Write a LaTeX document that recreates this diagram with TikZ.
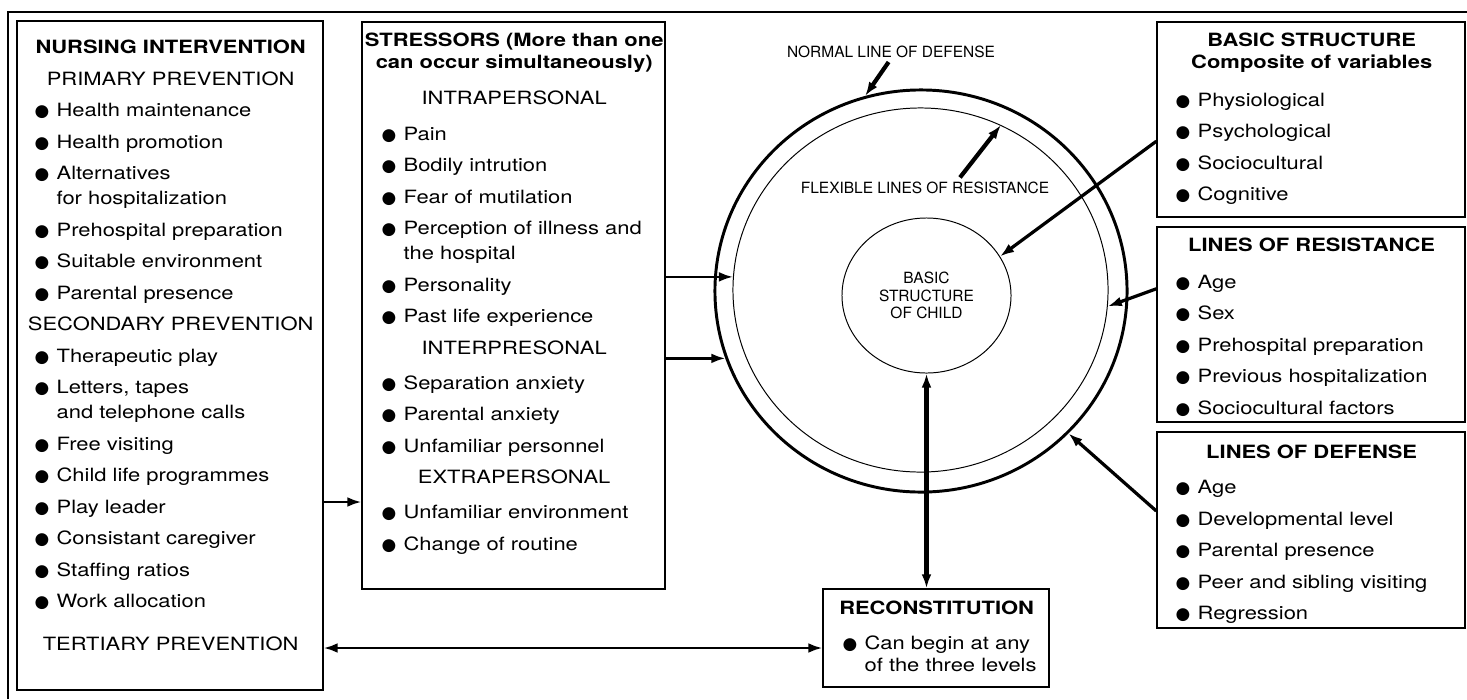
\documentclass[tikz,border=0pt]{standalone}
\usepackage{fontspec}
\setmainfont{TeX Gyre Heros}[FakeStretch=1.2]
\newfontfamily\lblfont{TeX Gyre Heros}
\newfontfamily\dotfont{DejaVu Sans}
\usepackage{tikz}
\usetikzlibrary{arrows.meta,calc,positioning,shapes.geometric}

\newcommand{\dotb}{{\dotfont\fontsize{12}{12}\selectfont ●}}
\newcommand{\hd}[1]{\makebox[\linewidth]{#1}}
\newcommand{\itm}[1]{\makebox[0.55cm][l]{\dotb}\mbox{#1}}
\newcommand{\cnt}[1]{\hspace*{0.55cm}\mbox{#1}}

\begin{document}
\begin{tikzpicture}[x=0.025cm,y=-0.025cm,font=\fontsize{13}{22.4}\selectfont,every node/.style={draw,line width=0.9pt,inner sep=0pt},listtext/.style={draw=none,anchor=base west,align=left},circtext/.style={draw=none,font=\lblfont\fontsize{11}{12.4}\selectfont,align=center},conn/.style={line width=1.7pt},midconn/.style={line width=2.3pt},heavyconn/.style={line width=3pt},>={Latex[length=10pt,width=7pt]}]
	\useasboundingbox (0,0) rectangle (1467,699);
	\draw[line width=1pt] (8,699) -- (8,12) -- (1467,12);

	\node (norm) at (921,291) [ellipse,line width=2.1pt,minimum width=10.3cm,minimum height=10.05cm] {};
	\node (flex) at (920.5,290) [ellipse,line width=0.7pt,minimum width=9.375cm,minimum height=9.1cm] {};
	\node (core) at (926.5,295.5) [ellipse,line width=0.7pt,minimum width=4.225cm,minimum height=3.875cm] {};

	\node (ni) at (170,355.5) [rectangle,minimum width=7.65cm,minimum height=16.725cm] {};
	\node (st) at (513.5,305.5) [rectangle,minimum width=7.575cm,minimum height=14.175cm] {};
	\node (bs) at (1311,119.5) [rectangle,minimum width=7.7cm,minimum height=4.875cm] {};
	\node (lr) at (1311,324.5) [rectangle,minimum width=7.7cm,minimum height=4.875cm] {};
	\node (ld) at (1311,530) [rectangle,minimum width=7.7cm,minimum height=4.9cm] {};
	\node (rc) at (936,638) [rectangle,minimum width=5.65cm,minimum height=2.45cm] {};

	\node (ni-t) [listtext,text width=6.8cm] at (34,53.5) {\hd{\textbf{NURSING INTERVENTION}}\\
		\hd{PRIMARY PREVENTION}\\
		\itm{Health maintenance}\\
		\itm{Health promotion}\\
		\itm{Alternatives}\\[-4.6pt]
		\cnt{for hospitalization}\\
		\itm{Prehospital preparation}\\
		\itm{Suitable environment}\\
		\itm{Parental presence}\\
		\hd{SECONDARY PREVENTION}\\
		\itm{Therapeutic play}\\
		\itm{Letters, tapes}\\[-4.6pt]
		\cnt{and telephone calls}\\
		\itm{Free visiting}\\
		\itm{Child life programmes}\\
		\itm{Play leader}\\
		\itm{Consistant caregiver}\\
		\itm{Staffing ratios}\\
		\itm{Work allocation}\\[8.5pt]
		\hd{TERTIARY PREVENTION}};
	\node (st-t) [listtext,text width=6.625cm] at (381,46.5) {\hd{\textbf{STRESSORS (More than one}}\\[-6.8pt]
		\hd{\textbf{can occur simultaneously)}}\\[3.2pt]
		\hd{INTRAPERSONAL}\\[3.2pt]
		\itm{Pain}\\
		\itm{Bodily intrution}\\
		\itm{Fear of mutilation}\\
		\itm{Perception of illness and}\\[-4.6pt]
		\cnt{the hospital}\\
		\itm{Personality}\\
		\itm{Past life experience}\\
		\hd{INTERPRESONAL}\\[2.5pt]
		\itm{Separation anxiety}\\
		\itm{Parental anxiety}\\
		\itm{Unfamiliar personnel}\\
		\hd{EXTRAPERSONAL}\\[2.5pt]
		\itm{Unfamiliar environment}\\
		\itm{Change of routine}};
	\node (bs-t) [listtext,text width=6.8cm] at (1175,46.5) {\hd{\textbf{BASIC STRUCTURE}}\\[-6.8pt]
		\hd{\textbf{Composite of variables}}\\[4.6pt]
		\itm{Physiological}\\
		\itm{Psychological}\\
		\itm{Sociocultural}\\
		\itm{Cognitive}};
	\node (lr-t) [listtext,text width=6.8cm] at (1175,251.5) {\hd{\textbf{LINES OF RESISTANCE}}\\[3.8pt]
		\itm{Age}\\
		\itm{Sex}\\
		\itm{Prehospital preparation}\\
		\itm{Previous hospitalization}\\
		\itm{Sociocultural factors}};
	\node (ld-t) [listtext,text width=6.8cm] at (1175,458.5) {\hd{\textbf{LINES OF DEFENSE}}\\[2.5pt]
		\itm{Age}\\
		\itm{Developmental level}\\
		\itm{Parental presence}\\
		\itm{Peer and sibling visiting}\\
		\itm{Regression}};
	\node (rc-t) [listtext,text width=4.7cm] at (842,614.5) {\hd{\textbf{RECONSTITUTION}}\\[2.5pt]
		\itm{Can begin at any}\\[-6.8pt]
		\cnt{of the three levels}};

	\node (nld) [circtext] at (891,52) {NORMAL LINE OF DEFENSE};
	\node (flr) [circtext] at (925,188) {FLEXIBLE LINES OF RESISTANCE};
	\node (child) [circtext] at (core) {BASIC\\STRUCTURE\\OF CHILD};

	\coordinate (nrow) at (0,502);
	\coordinate (trow) at (0,648);
	\draw[conn,->] (ni.east |- nrow) -- (st.west |- nrow);
	\draw[conn,<->] (ni.east |- trow) -- (rc.west |- trow);
	\draw[conn,->] (st.east |- flex.176) -- (flex.176);
	\draw[conn,->] (st.east |- norm.199) -- (norm.199);
	\draw[heavyconn,->,shorten <=3pt] (nld.south) -- (norm.106);
	\draw[heavyconn,->] ($(flr.north)+(35,-4)$) -- (flex.64);
	\draw[midconn,->] (bs.188) -- (core.28);
	\draw[midconn,->] (lr.167) -- (flex.-5);
	\draw[midconn,->] (ld.173) -- (norm.-44);
	\draw[heavyconn,<->] (core.south) -- (rc.north -| core.south);
\end{tikzpicture}
\end{document}
